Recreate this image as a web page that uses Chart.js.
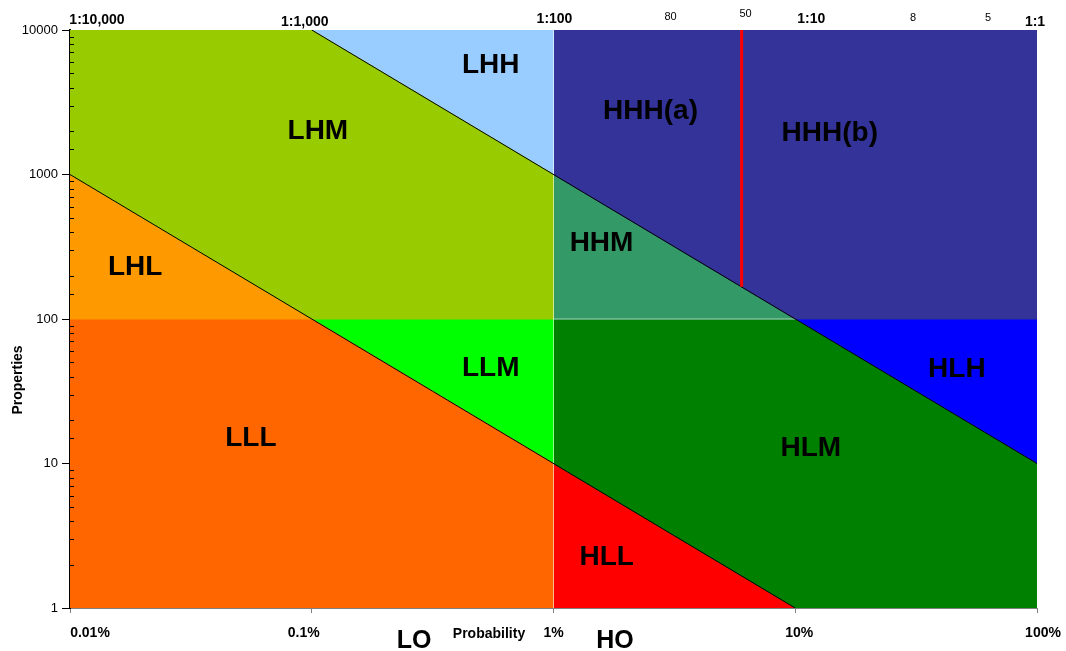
<!DOCTYPE html>
<html>
<head>
<meta charset="utf-8">
<title>Risk matrix</title>
<script src="https://cdn.jsdelivr.net/npm/chart.js@4.4.0/dist/chart.umd.min.js"></script>
<style>
    html, body { margin: 0; padding: 0; background: #fff; }
    #wrap { width: 1066px; height: 651px; }
</style>
</head>
<body>
<div id="wrap"><canvas id="riskChart" width="1066" height="651"></canvas></div>
<script>
// Axis ranges: probability (fraction) and number of properties
const xRange = [0.0001, 1];
const yRange = [1, 10000];

// Zones: name, colour and corner points [probability, properties]
const zoneNames = ['LHM', 'LHH', 'LHL', 'LLL', 'LLM', 'HHH', 'HHM', 'HLH', 'HLM', 'HLL'];
const zoneColors = ['#99cc00', '#99ccff', '#ff9900', '#ff6600', '#00ff00', '#333399', '#339966', '#0000ff', '#008000', '#ff0000'];
const zonePoints = [
    [[0.0001, 10000], [0.001, 10000], [0.01, 1000], [0.01, 100], [0.001, 100], [0.0001, 1000]],
    [[0.001, 10000], [0.01, 10000], [0.01, 1000]],
    [[0.0001, 1000], [0.001, 100], [0.0001, 100]],
    [[0.0001, 100], [0.001, 100], [0.01, 10], [0.01, 1], [0.0001, 1]],
    [[0.001, 100], [0.01, 100], [0.01, 10]],
    [[0.01, 10000], [1, 10000], [1, 100], [0.1, 100], [0.01, 1000]],
    [[0.01, 1000], [0.1, 100], [0.01, 100]],
    [[0.1, 100], [1, 100], [1, 10]],
    [[0.01, 100], [0.1, 100], [1, 10], [1, 1], [0.1, 1], [0.01, 10]],
    [[0.01, 10], [0.1, 1], [0.01, 1]]
];

// Boundary lines
const lowerDiagonal = [[0.0001, 1000], [0.1, 1]];
const upperDiagonal = [[0.001, 10000], [1, 10]];
const redSplit = [[0.06, 167], [0.06, 10000]];
const seamVertical = [[0.01, 1], [0.01, 10000]];
const seamHorizontal = [[0.01, 100], [0.1, 100]];

// Zone labels, placed in data coordinates
const labelNames = ['LHH', 'HHH(a)', 'HHH(b)', 'LHM', 'HHM', 'LHL', 'LLM', 'HLH', 'LLL', 'HLM', 'HLL'];
const labelX = [0.0055, 0.0252, 0.139, 0.00106, 0.0158, 0.000186, 0.0055, 0.466, 0.00056, 0.116, 0.0166];
const labelY = [5730, 2750, 1940, 2000, 336, 229, 45.8, 45.1, 15.0, 12.8, 2.25];

// Bottom (probability) and top (odds) tick labels
const bottomLabels = ['0.01%', '0.1%', '1%', '10%', '100%'];
const bottomValues = [0.0001, 0.001, 0.01, 0.1, 1];
const topLabels = ['1:10,000', '1:1,000', '1:100', '80', '50', '1:10', '8', '5', '1:1'];
const topValues = [0.0001, 0.001, 0.01, 0.0305, 0.06, 0.1, 0.307, 0.627, 1];

// text nudges (px) to match the original layout
const bottomShift = [20, -8, 0, 4, 6];
const topShift = [27, -7, 1, 0, 4, 16, 0, 0, -2];
const topBaseline = [24, 26, 23, 20, 17, 23, 21, 21, 26];
const topBold = [true, true, true, false, false, true, false, false, true];

const FONT = "'Liberation Sans', Arial, sans-serif";

function toXY(points) {
    return points.map(p => ({x: p[0], y: p[1]}));
}

function isDecade(v) {
    const l = Math.log10(v);
    return Math.abs(l - Math.round(l)) < 1e-9;
}

const datasets = [];

zoneNames.forEach((name, i) => {
    datasets.push({
        label: name,
        data: toXY(zonePoints[i]),
        showLine: true,
        fill: 'shape',
        backgroundColor: zoneColors[i],
        borderColor: zoneColors[i],
        borderWidth: 1,
        pointRadius: 0,
        order: 3
    });
});

[seamVertical, seamHorizontal].forEach(seg => {
    datasets.push({
        data: toXY(seg),
        showLine: true,
        fill: false,
        borderColor: 'rgba(255,255,255,0.55)',
        borderWidth: 1,
        pointRadius: 0,
        order: 2
    });
});

[lowerDiagonal, upperDiagonal].forEach(seg => {
    datasets.push({
        data: toXY(seg),
        showLine: true,
        fill: false,
        borderColor: '#000000',
        borderWidth: 1,
        pointRadius: 0,
        order: 1
    });
});

datasets.push({
    data: toXY(redSplit),
    showLine: true,
    fill: false,
    borderColor: '#ff0000',
    borderWidth: 3,
    pointRadius: 0,
    order: 0
});

// Texts and small tick marks drawn on top of the chart
const textPlugin = {
    id: 'riskText',
    afterDraw(chart) {
        const ctx = chart.ctx;
        const xs = chart.scales.x;
        const ys = chart.scales.y;
        const area = chart.chartArea;

        ctx.save();

        // minor ticks inside the left axis
        ctx.strokeStyle = '#000';
        ctx.lineWidth = 1;
        ys.ticks.forEach(t => {
            if (isDecade(t.value)) return;
            const py = Math.round(ys.getPixelForValue(t.value)) + 0.5;
            ctx.beginPath();
            ctx.moveTo(area.left, py);
            ctx.lineTo(area.left + 4, py);
            ctx.stroke();
        });

        ctx.fillStyle = '#000';
        ctx.textAlign = 'center';
        ctx.textBaseline = 'middle';

        // zone labels
        ctx.font = 'bold 28px ' + FONT;
        labelNames.forEach((name, i) => {
            ctx.fillText(name, xs.getPixelForValue(labelX[i]), ys.getPixelForValue(labelY[i]));
        });

        ctx.textBaseline = 'alphabetic';

        // bottom probability labels
        ctx.font = 'bold 14px ' + FONT;
        bottomLabels.forEach((txt, i) => {
            ctx.fillText(txt, xs.getPixelForValue(bottomValues[i]) + bottomShift[i], 637);
        });

        // top odds labels
        topLabels.forEach((txt, i) => {
            ctx.font = (topBold[i] ? 'bold 14px ' : '11px ') + FONT;
            ctx.fillText(txt, xs.getPixelForValue(topValues[i]) + topShift[i], topBaseline[i]);
        });

        // axis titles
        ctx.font = 'bold 14px ' + FONT;
        ctx.fillText('Probability', 489, 638);
        ctx.font = 'bold 25px ' + FONT;
        ctx.fillText('LO', 414, 648);
        ctx.fillText('HO', 615, 648);

        ctx.translate(18, 380);
        ctx.rotate(-Math.PI / 2);
        ctx.font = 'bold 14px ' + FONT;
        ctx.textBaseline = 'middle';
        ctx.fillText('Properties', 0, 0);

        ctx.restore();
    }
};

const ctx = document.getElementById('riskChart').getContext('2d');
new Chart(ctx, {
    type: 'scatter',
    data: { datasets: datasets },
    options: {
        responsive: false,
        animation: false,
        layout: { padding: { left: 0, right: 29, top: 30, bottom: 0 } },
        plugins: {
            legend: { display: false },
            tooltip: { enabled: false }
        },
        scales: {
            x: {
                type: 'logarithmic',
                min: xRange[0],
                max: xRange[1],
                afterFit(scale) { scale.height = 43; },
                border: { color: '#808080', width: 1 },
                grid: {
                    drawOnChartArea: false,
                    tickLength: 5,
                    color: c => (c.tick && isDecade(c.tick.value)) ? '#808080' : 'rgba(0,0,0,0)'
                },
                ticks: { display: false, autoSkip: false }
            },
            y: {
                type: 'logarithmic',
                min: yRange[0],
                max: yRange[1],
                afterFit(scale) { scale.width = 70; },
                border: { color: '#000000', width: 2 },
                grid: {
                    drawOnChartArea: false,
                    tickLength: 8,
                    color: c => (c.tick && isDecade(c.tick.value)) ? '#000000' : 'rgba(0,0,0,0)'
                },
                ticks: {
                    autoSkip: false,
                    padding: 4,
                    color: '#000',
                    font: { family: FONT, size: 13 },
                    callback: v => isDecade(v) ? String(Math.round(v)) : ''
                }
            }
        }
    },
    plugins: [textPlugin]
});
</script>
</body>
</html>
